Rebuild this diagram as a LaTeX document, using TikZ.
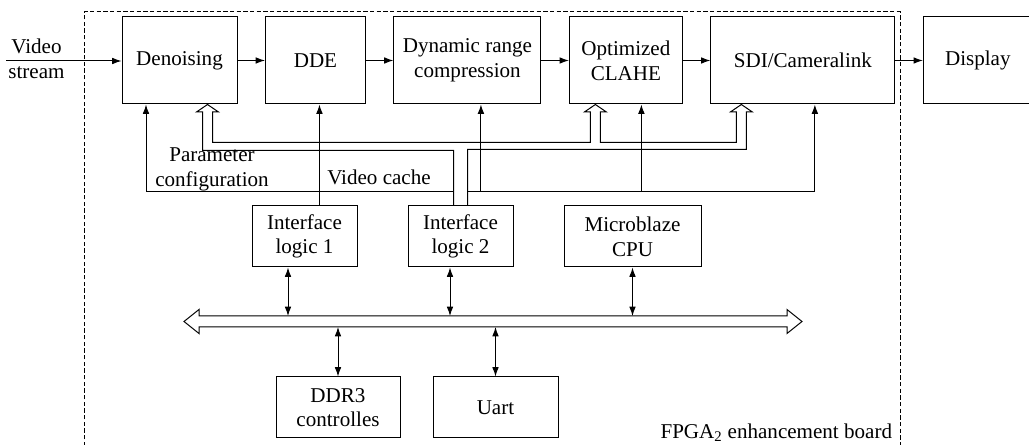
\documentclass[tikz,border=0pt]{standalone}
\usepackage{fontspec}
\setmainfont{Liberation Serif}
\usetikzlibrary{positioning, arrows.meta, calc}

\begin{document}
\begin{tikzpicture}[x=0.75pt, y=-0.75pt, line width=0.75pt, >={Latex[length=7pt,width=5pt]},
    node distance=20.6pt,
    every node/.style={font=\fontsize{15.8}{18.5}\selectfont},
    blk/.style={draw, align=center, inner sep=2pt},
    mainbox/.style={blk, minimum height=65.25pt},
    ctlbox/.style={blk, minimum height=45.75pt},
    frame/.style={dash pattern=on 3.2pt off 1.8pt}]
    \useasboundingbox (0,0) rectangle (1029,445);

    % Processing chain
    \node[mainbox, minimum width=86.25pt] (den) at (179.5,60.5) {Denoising};
    \node[mainbox, minimum width=75pt] (dde) [right=of den] {DDE};
    \node[mainbox, minimum width=110.25pt] (drc) [right=of dde] {Dynamic range\\compression};
    \node[mainbox, minimum width=84.75pt] (clahe) [right=of drc] {Optimized\\CLAHE};
    \node[mainbox, minimum width=138pt] (sdi) [right=of clahe] {SDI/Cameralink};
    \node[mainbox, minimum width=81.75pt] (disp) [right=of sdi] {Display};

    % Control blocks
    \node[ctlbox, minimum width=78.75pt] (il1) at (304.5,236.5) {Interface\\logic 1};
    \node[ctlbox, minimum width=78.75pt] (il2) [right=37.5pt of il1] {Interface\\logic 2};
    \node[ctlbox, minimum width=102.75pt] (cpu) [right=37.5pt of il2] {Microblaze\\CPU};
    \node[ctlbox, minimum width=93pt] (ddr) at (338,407.5) {DDR3\\controlles};
    \node[ctlbox, minimum width=93.75pt] (uart) [right=24pt of ddr] {Uart};

    % Labels
    \node[align=center] (vs) at (36.5,58.5) {Video\\stream};
    \node[align=center] (pcl) at (212,169.5) {Parameter\\configuration};
    \node (vcl) at (379,177) {Video cache};
    \node[anchor=east] (brd) at (897,433) {FPGA\textsubscript{2} enhancement board};

    % Board outline
    \draw[frame] (84,446) |- (900,12) -- (900,446);

    % Video path
    \coordinate (vin) at (6,61);
    \draw[->] (vin) -- (vin -| den.west);
    \draw[->] (den) -- (dde);
    \draw[->] (dde) -- (drc);
    \draw[->] (drc) -- (clahe);
    \draw[->] (clahe) -- (sdi);
    \draw[->] (sdi) -- (disp);

    % Wide data path from interface logic 2
    \coordinate (tA) at ($(den.south)+(28,0)$);
    \coordinate (tB) at ($(clahe.south)+(-30.5,0)$);
    \coordinate (tC) at ($(sdi.south)+(-61.5,0)$);
    \coordinate (bL) at ($(il2.north)+(-7,0)$);
    \coordinate (bR) at ($(il2.north)+(7,0)$);
    \draw (bL) -- ++(0,-55) -| ($(tA)+(-5,7.5)$) -- ++(-6,0) -- (tA) -- ++(11,7.5) -- ++(-6,0)
          |- ($(tB)+(-5,38)$) -- ++(0,-30.5) -- ++(-6,0) -- (tB) -- ++(11,7.5) -- ++(-6,0)
          |- ($(tC)+(-5,38)$) -- ++(0,-30.5) -- ++(-6,0) -- (tC) -- ++(11,7.5) -- ++(-6,0)
          -- ($(tC)+(5,45)$) -| (bR);

    % Parameter configuration
    \coordinate (pc) at ($(bL)+(0,-13.5)$);
    \coordinate (pA) at ($(den.south)+(-33.5,0)$);
    \coordinate (pB) at ($(drc.south)+(13.5,0)$);
    \coordinate (pC) at ($(clahe.south)+(15.5,0)$);
    \coordinate (pD) at ($(sdi.south)+(12,0)$);
    \draw[->] (pc) -| (pA);
    \draw[->] (bR |- pc) -| (pD);
    \draw[->] (pB |- pc) -- (pB);
    \draw[->] (pC |- pc) -- (pC);

    % Video cache
    \coordinate (vc) at ($(dde.south)+(4,0)$);
    \draw[->] (vc |- il1.north) -- (vc);

    % Bus
    \coordinate (busL) at (184,321.5);
    \coordinate (busR) at (802,321.5);
    \coordinate (busT) at (184,316);
    \coordinate (busB) at (184,327);
    \draw (busL) -- ++(15,-12) -- ++(0,6.5) -- ($(busR)+(-15,-5.5)$) -- ++(0,-6.5) -- (busR)
          -- ++(-15,12) -- ++(0,-6.5) -- ($(busL)+(15,5.5)$) -- ++(0,6.5) -- cycle;

    \coordinate (a1) at ($(il1.south)+(-16.5,0)$);
    \coordinate (a2) at ($(il2.south)+(-10.5,0)$);
    \draw[<->] (a1) -- (a1 |- busT);
    \draw[<->] (a2) -- (a2 |- busT);
    \draw[<->] (cpu.south) -- (cpu.south |- busT);
    \draw[<->] (ddr.north |- busB) -- (ddr.north);
    \draw[<->] (uart.north |- busB) -- (uart.north);
\end{tikzpicture}
\end{document}
